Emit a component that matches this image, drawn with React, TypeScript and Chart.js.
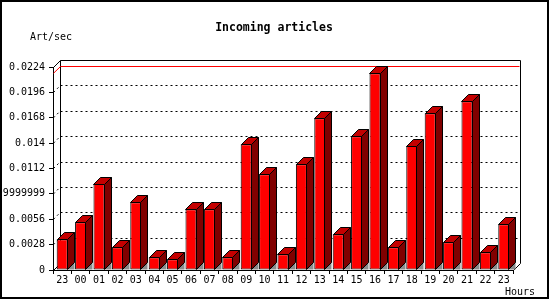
import React, { useEffect, useRef } from "react";
import { Chart, registerables } from "chart.js";

Chart.register(...registerables);

const hours = ["23", "00", "01", "02", "03", "04", "05", "06", "07", "08", "09", "10", "11", "12", "13", "14", "15", "16", "17", "18", "19", "20", "21", "22", "23"];
const artPerSec = [0.00339, 0.00526, 0.00949, 0.0025, 0.00747, 0.0014, 0.00118, 0.0067, 0.0067, 0.0014, 0.01387, 0.01056, 0.00173, 0.01166, 0.01674, 0.00394, 0.01475, 0.02171, 0.0025, 0.01368, 0.01729, 0.00306, 0.01862, 0.00195, 0.00504];
const yTickValues = [0, 0.0028, 0.0056, 0.0084, 0.0112, 0.014, 0.0168, 0.0196, 0.0224];
const yTickLabels = ["0", "0.0028", "0.0056", "0.0083999999999999", "0.0112", "0.014", "0.0168", "0.0196", "0.0224"];
const titleText = "Incoming articles";
const yAxisText = "Art/sec";
const xAxisText = "Hours";

const DEPTH = 7;
const MONO = "'DejaVu Sans Mono', 'Liberation Mono', monospace";

const px = (v: number) => Math.round(v) + 0.5;

const threeD = {
  id: "threeD",
  beforeDatasetsDraw(chart: any) {
    const { ctx, chartArea } = chart;
    const y = chart.scales.y;
    const L = chartArea.left;
    const R = chartArea.right;
    const bL = L + DEPTH;
    const bR = R + DEPTH;
    const top = y.getPixelForValue(yTickValues[yTickValues.length - 1]);
    const bottom = y.getPixelForValue(0);
    ctx.save();
    ctx.lineWidth = 1;
    ctx.strokeStyle = "#000";
    ctx.setLineDash([2, 3]);
    for (let i = 1; i < yTickValues.length - 1; i++) {
      const fy = y.getPixelForValue(yTickValues[i]);
      ctx.beginPath();
      ctx.moveTo(px(bL), px(fy - DEPTH));
      ctx.lineTo(px(bR), px(fy - DEPTH));
      ctx.stroke();
      ctx.beginPath();
      ctx.moveTo(L + 0.5, fy);
      ctx.lineTo(bL + 0.5, fy - DEPTH);
      ctx.stroke();
    }
    ctx.setLineDash([]);
    ctx.beginPath();
    ctx.moveTo(px(L), px(top));
    ctx.lineTo(px(bL), px(top - DEPTH));
    ctx.lineTo(px(bR), px(top - DEPTH));
    ctx.lineTo(px(bR), px(bottom - DEPTH));
    ctx.lineTo(px(R), px(bottom));
    ctx.moveTo(px(bL), px(top - DEPTH));
    ctx.lineTo(px(bL), px(bottom - DEPTH));
    ctx.moveTo(px(L), px(bottom));
    ctx.lineTo(px(bL), px(bottom - DEPTH));
    ctx.stroke();
    const maxV = Math.max(...artPerSec);
    const my = y.getPixelForValue(maxV);
    ctx.strokeStyle = "#FF0000";
    ctx.beginPath();
    ctx.moveTo(L + 0.5, my);
    ctx.lineTo(px(bL), px(my - DEPTH));
    ctx.lineTo(px(bR) - 1, px(my - DEPTH));
    ctx.stroke();
    ctx.restore();
  },
  afterDatasetsDraw(chart: any) {
    const { ctx } = chart;
    const meta = chart.getDatasetMeta(0);
    ctx.save();
    ctx.lineWidth = 1;
    ctx.strokeStyle = "#000";
    meta.data.forEach((bar: any) => {
      const p = bar.getProps(["x", "y", "base", "width"], true);
      const left = Math.round(p.x - p.width / 2) + 0.5;
      const right = Math.round(p.x + p.width / 2) - 0.5;
      const top = Math.round(p.y) + 0.5;
      const bottom = Math.round(p.base) - 0.5;
      ctx.fillStyle = "#8c8c8c";
      ctx.beginPath();
      ctx.moveTo(right, bottom);
      ctx.lineTo(right + DEPTH, bottom - DEPTH);
      ctx.lineTo(right + DEPTH, bottom);
      ctx.closePath();
      ctx.fill();
      ctx.fillStyle = "#800000";
      ctx.beginPath();
      ctx.moveTo(right, top);
      ctx.lineTo(right + DEPTH, top - DEPTH);
      ctx.lineTo(right + DEPTH, bottom - DEPTH);
      ctx.lineTo(right, bottom);
      ctx.closePath();
      ctx.fill();
      ctx.stroke();
      ctx.fillStyle = "#C40000";
      ctx.beginPath();
      ctx.moveTo(left, top);
      ctx.lineTo(left + DEPTH, top - DEPTH);
      ctx.lineTo(right + DEPTH, top - DEPTH);
      ctx.lineTo(right, top);
      ctx.closePath();
      ctx.fill();
      ctx.stroke();
    });
    ctx.restore();
  },
  afterDraw(chart: any) {
    const { ctx, width, height } = chart;
    ctx.save();
    ctx.fillStyle = "#000";
    ctx.textBaseline = "alphabetic";
    ctx.font = `bold 11.5px ${MONO}`;
    ctx.textAlign = "center";
    ctx.fillText(titleText, 274, 31);
    ctx.font = `10px ${MONO}`;
    ctx.textAlign = "left";
    ctx.fillText(yAxisText, 30, 40);
    ctx.fillText(xAxisText, 505, 295);
    ctx.strokeStyle = "#000";
    ctx.lineWidth = 2;
    ctx.strokeRect(1, 1, width - 3, height - 3);
    ctx.restore();
  },
};

export default function App() {
  const ref = useRef<HTMLCanvasElement>(null);
  useEffect(() => {
    document.body.style.margin = "0";
    Chart.defaults.font.family = MONO;
    Chart.defaults.font.size = 10;
    Chart.defaults.color = "#000";
    const chart = new Chart(ref.current as HTMLCanvasElement, {
      type: "bar",
      data: {
        labels: hours,
        datasets: [
          {
            data: artPerSec,
            backgroundColor: "#FF0000",
            borderColor: "#000",
            borderWidth: 1,
            borderSkipped: false,
            barPercentage: 0.6,
            categoryPercentage: 1,
          },
        ],
      },
      options: {
        animation: false,
        responsive: false,
        devicePixelRatio: 1,
        layout: { padding: { top: 67, right: 37, bottom: 0, left: 0 } },
        plugins: { legend: { display: false }, tooltip: { enabled: false }, title: { display: false } },
        scales: {
          x: {
            afterFit: (s: any) => {
              s.height = 30;
            },
            grid: { drawOnChartArea: false, drawTicks: true, tickLength: 4, color: "#000", offset: true },
            border: { display: true, color: "#000" },
            ticks: { autoSkip: false, maxRotation: 0, padding: 0, color: "#000" },
          },
          y: {
            min: 0,
            max: 0.0224,
            afterFit: (s: any) => {
              s.width = 53;
            },
            afterBuildTicks: (s: any) => {
              s.ticks = yTickValues.map((v) => ({ value: v }));
            },
            grid: { drawOnChartArea: false, drawTicks: true, tickLength: 4, color: "#000" },
            border: { display: true, color: "#000" },
            ticks: {
              padding: 4,
              color: "#000",
              callback: (_v: any, i: number) => yTickLabels[i],
            },
          },
        },
      },
      plugins: [threeD],
    });
    return () => chart.destroy();
  }, []);
  return <canvas ref={ref} width={550} height={300} style={{ display: "block" }} />;
}
